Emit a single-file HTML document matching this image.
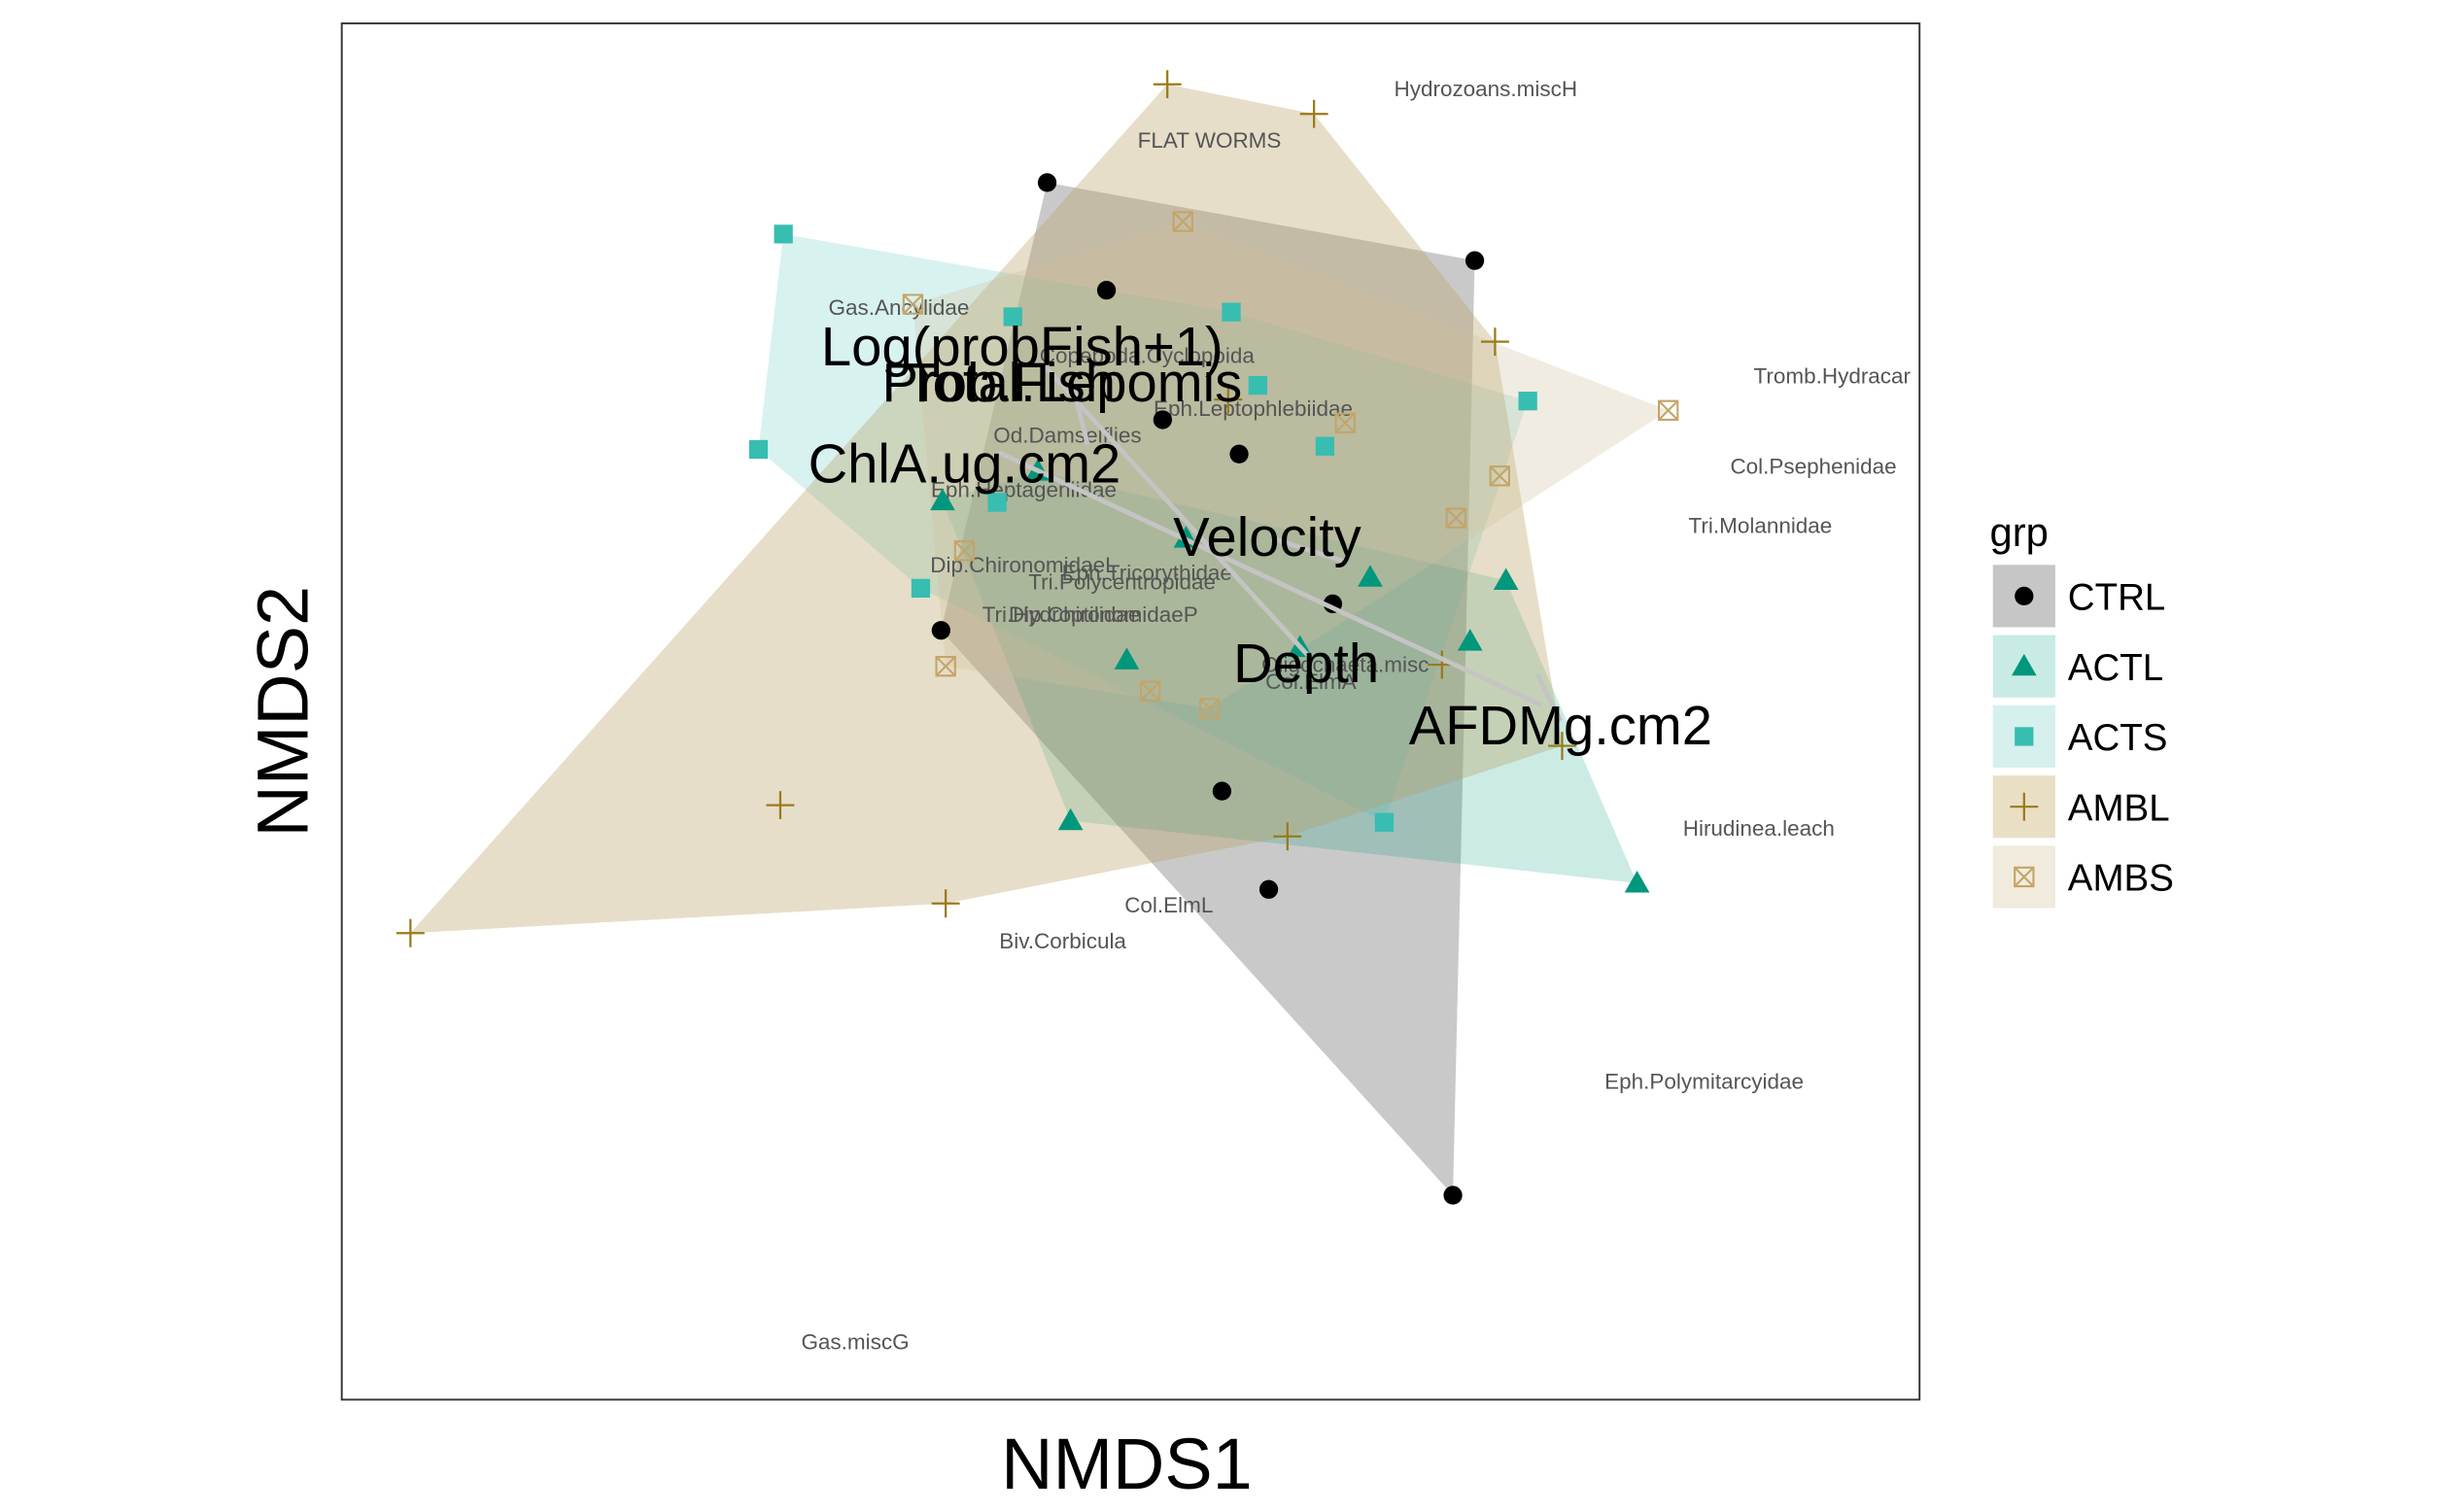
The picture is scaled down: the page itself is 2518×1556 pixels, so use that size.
<!DOCTYPE html>
<html><head><meta charset="utf-8"><style>
html,body{margin:0;padding:0;background:#fff;}
svg{display:block;font-family:"Liberation Sans",Arial,sans-serif;}
</style></head><body>
<svg id="chart" width="2518" height="1556" viewBox="0 0 1568 969" preserveAspectRatio="none" xmlns="http://www.w3.org/2000/svg">
<defs><clipPath id="pc"><rect x="219" y="15" width="1011" height="882"/></clipPath></defs>
<rect x="0" y="0" width="1568" height="969" fill="#fff"/>
<g id="plot" clip-path="url(#pc)"></g>
<rect x="219" y="15" width="1011" height="882" fill="none" stroke="#333" stroke-width="1.2"/>
<text x="722" y="954" font-size="46" text-anchor="middle">NMDS1</text>
<text x="0" y="0" font-size="46" text-anchor="middle" transform="translate(197,456) rotate(-90)">NMDS2</text>
<g id="legend">
<text x="1275" y="350" font-size="26">grp</text>
</g>
</svg>
<script>
const groups = ['CTRL','ACTL','ACTS','AMBL','AMBS'];
const ctrlX = [-0.53,2.21,-0.15,0.21,0.70,1.30,-1.21,0.59,0.89,2.07];
const ctrlY = [3.39,2.89,2.70,1.87,1.65,0.69,0.52,-0.51,-1.14,-3.10];
const actlX = [-0.59,-1.20,1.54,2.41,2.18,-0.02,1.09,-0.38,3.25,0.36];
const actlY = [1.54,1.35,0.86,0.84,0.45,0.33,0.41,-0.70,-1.10,1.11];
const actsX = [-2.22,-0.75,0.65,0.82,2.55,1.25,-2.38,-0.85,-1.34,1.63];
const actsY = [3.06,2.53,2.56,2.09,1.99,1.70,1.68,1.34,0.79,-0.71];
const amblX = [0.24,1.18,2.34,0.63,2.00,2.77,1.01,-2.24,-1.18,-4.61];
const amblY = [4.02,3.83,2.37,2.00,0.30,-0.22,-0.80,-0.60,-1.23,-1.42];
const ambsX = [0.34,-1.39,1.38,3.45,2.37,2.09,-1.06,-1.18,0.13,0.51];
const ambsY = [3.14,2.61,1.85,1.93,1.51,1.24,1.03,0.29,0.13,0.02];
const speciesNames = ['Hydrozoans.miscH','FLAT WORMS','Tromb.Hydracar','Gas.Ancylidae','Copepoda.Cyclopoida','Eph.Leptophlebiidae','Col.Psephenidae','Tri.Molannidae','Od.Damselflies','Eph.Heptageniidae','Dip.ChironomidaeL','Eph.Tricorythidae','Tri.Polycentropidae','Tri.Hydroptilidae','Dip.ChironomidaeP','Oligochaeta.misc','Col.ElmA','Hirudinea.leach','Col.ElmL','Biv.Corbicula','Eph.Polymitarcyidae','Gas.miscG'];
const speciesX = [2.28,0.51,4.50,-1.48,0.11,0.79,4.38,4.04,-0.40,-0.68,-0.68,0.11,-0.05,-0.44,-0.17,1.38,1.16,4.03,0.25,-0.43,3.68,-1.76];
const speciesY = [3.99,3.66,2.15,2.59,2.28,1.94,1.57,1.19,1.77,1.42,0.94,0.89,0.83,0.62,0.62,0.30,0.19,-0.75,-1.24,-1.47,-2.37,-4.04];
const envNames = ['Log(probFish+1)','Prob.Fish','Total.Lepomis','ChlA.ug.cm2','Velocity','Depth','AFDMg.cm2'];
const envX = [-0.69,-0.84,-0.36,-1.06,0.88,1.13,2.76];
const envY = [2.34,2.11,2.11,1.59,1.12,0.31,-0.09];
const arrowX0 = [-0.57,-0.84,-0.36,0.91,2.61];
const arrowY0 = [2.24,1.66,2.06,1.11,0.24];
const arrowX1 = [1.14,2.64,-0.27,1.38,2.76];
const arrowY1 = [0.36,0.04,1.71,0.96,-0.06];

const NS='http://www.w3.org/2000/svg';
function sx(v){return 724+v*100;}
function sy(v){return 456-v*100;}
const plot=document.getElementById('plot');
const legend=document.getElementById('legend');
function mk(tag,attrs,parent){const e=document.createElementNS(NS,tag);for(const k in attrs)e.setAttribute(k,attrs[k]);(parent||plot).appendChild(e);return e;}

const gx=[ctrlX,actlX,actsX,amblX,ambsX], gy=[ctrlY,actlY,actsY,amblY,ambsY];
const hullFill=['#7f7f7f','#00997f','#3cbfb4','#b8a060','#cfc09a'];
const hullOp=[0.42,0.2,0.2,0.35,0.3];
const ptCol=['#000','#00977d','#38bdb1','#9a7a1a','#c4a468'];
const keyBg=['#c6c6c6','#c9ebe5','#d5f0ed','#e8dfc5','#f0ebdd'];

function hull(pts){pts=pts.slice().sort((a,b)=>a[0]-b[0]||a[1]-b[1]);const cr=(o,a,b)=>(a[0]-o[0])*(b[1]-o[1])-(a[1]-o[1])*(b[0]-o[0]);const lo=[],up=[];for(const p of pts){while(lo.length>=2&&cr(lo[lo.length-2],lo[lo.length-1],p)<=0)lo.pop();lo.push(p);}for(let i=pts.length-1;i>=0;i--){const p=pts[i];while(up.length>=2&&cr(up[up.length-2],up[up.length-1],p)<=0)up.pop();up.push(p);}up.pop();lo.pop();return lo.concat(up);}

groups.forEach((g,i)=>{
  const pts=gx[i].map((v,j)=>[sx(v),sy(gy[i][j])]);
  const h=hull(pts);
  const p=mk('polygon',{points:h.map(q=>q.join(',')).join(' '),fill:hullFill[i],'fill-opacity':hullOp[i],stroke:'none'});
  
  
});

function marker(i,x,y,parent,name){
  const c=ptCol[i];let e;
  if(i===0){e=mk('circle',{cx:x,cy:y,r:6,fill:c},parent);}
  else if(i===1){e=mk('polygon',{points:`${x},${y-8} ${x-8},${y+6} ${x+8},${y+6}`,fill:c},parent);}
  else if(i===2){e=mk('rect',{x:x-6,y:y-6,width:12,height:12,fill:c},parent);}
  else if(i===3){e=mk('path',{d:`M${x-9},${y}H${x+9}M${x},${y-9}V${y+9}`,stroke:c,'stroke-width':1.4,fill:'none'},parent);}
  else {e=mk('path',{d:`M${x-6},${y-6}h12v12h-12zM${x-6},${y-6}L${x+6},${y+6}M${x+6},${y-6}L${x-6},${y+6}`,stroke:c,'stroke-width':1.3,fill:'none'},parent);}
  
  
}

speciesNames.forEach((n,i)=>{
  const t=mk('text',{x:sx(speciesX[i]),y:sy(speciesY[i]),'font-size':14,fill:'#555','text-anchor':'middle','dominant-baseline':'central'});
  t.textContent=n;
  
  
});

groups.forEach((g,i)=>{
  gx[i].forEach((v,j)=>marker(i,sx(v),sy(gy[i][j]),plot,'point-'+g.toLowerCase()));
});

arrowX0.forEach((v,i)=>{
  const l=mk('line',{x1:sx(v),y1:sy(arrowY0[i]),x2:sx(arrowX1[i]),y2:sy(arrowY1[i]),stroke:'#c4c4c4','stroke-width':3});
  
  
});
envNames.forEach((n,i)=>{
  const t=mk('text',{x:sx(envX[i]),y:sy(envY[i]),'font-size':35,fill:'#000','text-anchor':'middle','dominant-baseline':'central'});
  t.textContent=n;
  
  
});

groups.forEach((g,i)=>{
  const y0=362+i*45;
  const r=mk('rect',{x:1277,y:y0,width:40,height:40,fill:keyBg[i]},legend);
  
  
  marker(i,1297,y0+20,legend,'legend-marker-'+g.toLowerCase());
  const t=mk('text',{x:1325,y:y0+21,'font-size':24,'dominant-baseline':'central'},legend);
  t.textContent=g;
  
  
});
</script>
</body></html>
